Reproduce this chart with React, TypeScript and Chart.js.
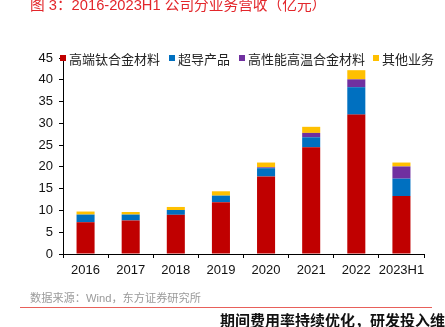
import React, { useEffect, useRef } from "react";
import { Chart, registerables } from "chart.js";

Chart.register(...registerables);

const categories = ["2016", "2017", "2018", "2019", "2020", "2021", "2022", "2023H1"];
const seriesNames = ["高端钛合金材料", "超导产品", "高性能高温合金材料", "其他业务"];
const titaniumAlloy = [7.3, 7.7, 9.0, 11.9, 17.8, 24.5, 32.0, 13.3];
const superconductor = [1.75, 1.35, 1.1, 1.5, 1.9, 2.3, 6.3, 4.0];
const superalloy = [0, 0, 0, 0, 0.2, 1.0, 1.8, 2.8];
const others = [0.7, 0.6, 0.7, 1.0, 1.1, 1.4, 2.1, 0.9];
const seriesColors = ["#C00000", "#0070C0", "#7030A0", "#FFC000"];
const yMin = 0;
const yMax = 45;
const yStep = 5;

const titleText = "图 3：2016-2023H1 公司分业务营收（亿元）";
const sourceText = "数据来源：Wind，东方证券研究所";
const nextHeading = "期间费用率持续优化，研发投入维持";

const FONT = "'Liberation Sans', Arial, 'Noto Sans CJK SC', sans-serif";

export default function App() {
  const canvasRef = useRef<HTMLCanvasElement | null>(null);

  useEffect(() => {
    const canvas = canvasRef.current;
    if (!canvas) return;
    const values = [titaniumAlloy, superconductor, superalloy, others];
    const chart = new Chart(canvas, {
      type: "bar",
      data: {
        labels: categories,
        datasets: seriesNames.map((name, i) => ({
          label: name,
          data: values[i],
          backgroundColor: seriesColors[i],
          borderWidth: 0,
          barPercentage: 0.4,
          categoryPercentage: 1,
        })),
      },
      options: {
        animation: false,
        responsive: false,
        maintainAspectRatio: false,
        layout: { padding: { left: 0, right: 21, top: 58, bottom: 43 } },
        plugins: {
          legend: { display: false },
          title: { display: false },
          tooltip: { enabled: false },
        },
        scales: {
          x: {
            stacked: true,
            offset: true,
            grid: {
              offset: true,
              drawOnChartArea: false,
              drawTicks: true,
              tickLength: 4,
              color: "#000",
            },
            border: { display: true, color: "#000", width: 1 },
            ticks: {
              color: "#111",
              font: { family: FONT, size: 13 },
              padding: 5,
              maxRotation: 0,
              autoSkip: false,
            },
            afterFit: (scale: any) => {
              scale.height = 30;
            },
          },
          y: {
            stacked: true,
            min: yMin,
            max: yMax,
            grid: {
              drawOnChartArea: false,
              drawTicks: true,
              tickLength: 4,
              color: "#000",
            },
            border: { display: true, color: "#000", width: 1 },
            ticks: {
              stepSize: yStep,
              color: "#111",
              font: { family: FONT, size: 13 },
              padding: 6,
            },
            afterFit: (scale: any) => {
              scale.width = 63;
            },
          },
        },
      },
    });
    return () => chart.destroy();
  }, []);

  const legendItems = seriesNames.map((name, i) => ({ name, color: seriesColors[i] }));
  const legendLefts = [60, 169, 239, 373];

  return (
    <div
      style={{
        position: "fixed",
        left: 0,
        top: 0,
        width: 445,
        height: 327,
        overflow: "hidden",
        background: "#fff",
        fontFamily: FONT,
      }}
    >
      <canvas
        ref={canvasRef}
        width={445}
        height={327}
        style={{ position: "absolute", left: 0, top: 0, width: 445, height: 327 }}
      />
      <div
        style={{
          position: "absolute",
          left: 30,
          top: -3,
          fontSize: 14.7,
          lineHeight: "16px",
          color: "#E3262B",
          whiteSpace: "nowrap",
        }}
      >
        {titleText}
      </div>
      {legendItems.map((it, i) => (
        <div
          key={it.name}
          style={{
            position: "absolute",
            left: legendLefts[i],
            top: 50,
            height: 16,
            display: "flex",
            alignItems: "center",
            whiteSpace: "nowrap",
            fontSize: 13,
            color: "#222",
          }}
        >
          <span
            style={{
              display: "inline-block",
              width: 6,
              height: 6,
              background: it.color,
              marginRight: 3,
            }}
          />
          <span>{it.name}</span>
        </div>
      ))}
      <div
        style={{
          position: "absolute",
          left: 30,
          top: 291,
          fontSize: 11.2,
          lineHeight: "14px",
          color: "#9A9A9A",
          whiteSpace: "nowrap",
        }}
      >
        {sourceText}
      </div>
      <div
        style={{
          position: "absolute",
          left: 20,
          top: 307,
          width: 412,
          height: 1,
          background: "#E8605A",
        }}
      />
      <div
        style={{
          position: "absolute",
          left: 220,
          top: 312,
          fontSize: 15,
          lineHeight: "18px",
          fontWeight: "bold",
          color: "#111",
          whiteSpace: "nowrap",
        }}
      >
        {nextHeading}
      </div>
    </div>
  );
}
